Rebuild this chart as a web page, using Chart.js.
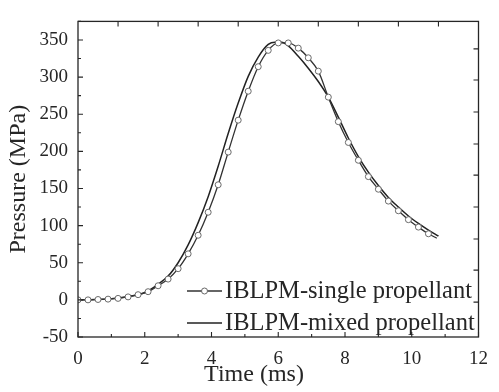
<!DOCTYPE html>
<html>
<head>
<meta charset="utf-8">
<script src="https://cdn.jsdelivr.net/npm/chart.js@4/dist/chart.umd.min.js"></script>
<style>
html,body{margin:0;padding:0;background:#fff;}
#wrap{width:499px;height:392px;}
</style>
</head>
<body>
<div id="wrap"><canvas id="c" width="499" height="392"></canvas></div>
<script>
// ---- data ----
const tSingle = [0,0.3,0.6,0.9,1.2,1.5,1.8,2.1,2.4,2.7,3.0,3.3,3.6,3.9,4.2,4.5,4.8,5.1,5.4,5.7,6.0,6.3,6.6,6.9,7.2,7.5,7.8,8.1,8.4,8.7,9.0,9.3,9.6,9.9,10.2,10.5,10.75];
const pSingle = [0,0,0.5,1,2,4,7,11,19,28,42,62,87,118,155,199,242,281,314,336,346,346,339,326,308,273,240,212,188,166,149,133,120,108,98,89,83];
const tMixed = [0,0.5,1.0,1.5,2.0,2.4,2.7,3.0,3.3,3.6,3.9,4.2,4.5,4.8,5.1,5.4,5.7,5.9,6.1,6.3,6.6,6.9,7.2,7.5,7.8,8.1,8.4,8.7,9.0,9.3,9.6,9.9,10.2,10.5,10.8];
const pMixed = [0,0.5,1.5,4.5,10,21,32,50,74,104,139,180,224,265,301,327,344,347,347,342,328,312,294,273,246,218,193,172,154,138,125,113,103,94,86];
const xTicks = [0,2,4,6,8,10,12];
const yTicks = [-50,0,50,100,150,200,250,300,350];
const topTicks = [1.2,2.4,3.6,4.8,6.0,7.2,8.4,9.6,10.8];
const rightTicks = [-3,40,82,125,168,210,253,296,338];
const labels = ["IBLPM-single propellant","IBLPM-mixed propellant"];
const xTitle = "Time (ms)";
const yTitle = "Pressure (MPa)";

const FONT = "'Liberation Serif','Times New Roman',serif";
const INK = '#262626';

const toXY = (xs, ys) => xs.map((x, i) => ({x: x, y: ys[i]}));

const ticksPlugin = {
  id: 'frameTicks',
  afterDraw(chart) {
    const ctx = chart.ctx;
    const a = chart.chartArea;
    const xs = chart.scales.x, ys = chart.scales.y;
    ctx.save();
    ctx.strokeStyle = INK;
    ctx.lineWidth = 1.3;
    ctx.strokeRect(a.left, a.top, a.right - a.left, a.bottom - a.top);
    ctx.lineWidth = 1.1;
    ctx.beginPath();
    for (let v = 0; v <= 12; v += 1) {
      const px = xs.getPixelForValue(v);
      const len = (v % 2 === 0) ? 5 : 3;
      ctx.moveTo(px, a.bottom); ctx.lineTo(px, a.bottom - len);
    }
    for (let v = -50; v <= 375; v += 25) {
      const py = ys.getPixelForValue(v);
      const len = (v % 50 === 0) ? 5 : 3;
      ctx.moveTo(a.left, py); ctx.lineTo(a.left + len, py);
    }
    topTicks.forEach(v => {
      const px = xs.getPixelForValue(v);
      ctx.moveTo(px, a.top); ctx.lineTo(px, a.top + 5);
    });
    rightTicks.forEach(v => {
      const py = ys.getPixelForValue(v);
      ctx.moveTo(a.right, py); ctx.lineTo(a.right - 5, py);
    });
    ctx.stroke();

    // x axis title (offset left as in the reference)
    ctx.fillStyle = INK;
    ctx.font = '24px ' + FONT;
    ctx.textAlign = 'center';
    ctx.textBaseline = 'alphabetic';
    ctx.fillText(xTitle, 254, 381);

    // legend inside plot
    const rows = [291, 323];
    ctx.font = '24.5px ' + FONT;
    ctx.textBaseline = 'middle';
    ctx.textAlign = 'left';
    chart.data.datasets.forEach((ds, i) => {
      const y = rows[i];
      ctx.strokeStyle = ds.borderColor;
      ctx.lineWidth = ds.borderWidth;
      ctx.beginPath();
      ctx.moveTo(187, y); ctx.lineTo(222, y);
      ctx.stroke();
      if (i === 0) {
        ctx.beginPath();
        ctx.arc(204.5, y, 3, 0, Math.PI * 2);
        ctx.fillStyle = '#fff';
        ctx.fill();
        ctx.strokeStyle = '#666';
        ctx.lineWidth = 1;
        ctx.stroke();
      }
      ctx.fillStyle = INK;
      ctx.fillText(ds.label, 225, y + 1);
    });
    ctx.restore();
  }
};

new Chart(document.getElementById('c'), {
  type: 'scatter',
  data: {
    datasets: [
      {
        label: labels[0],
        data: toXY(tSingle, pSingle),
        showLine: true,
        borderColor: '#333333',
        borderWidth: 1.3,
        cubicInterpolationMode: 'monotone',
        pointRadius: tSingle.map((t, i) => i === tSingle.length - 1 ? 0 : 3),
        pointBackgroundColor: '#ffffff',
        pointBorderColor: '#6a6a6a',
        pointBorderWidth: 1,
        order: 0
      },
      {
        label: labels[1],
        data: toXY(tMixed, pMixed),
        showLine: true,
        borderColor: '#222222',
        borderWidth: 1.5,
        cubicInterpolationMode: 'monotone',
        pointRadius: 0,
        order: 1
      }
    ]
  },
  options: {
    responsive: false,
    animation: false,
    layout: { padding: { top: 5, right: 10, left: 0, bottom: 0 } },
    plugins: { legend: { display: false }, tooltip: { enabled: false } },
    scales: {
      x: {
        type: 'linear', min: 0, max: 12,
        afterBuildTicks: s => { s.ticks = xTicks.map(v => ({value: v})); },
        afterFit: s => { s.height = 55; },
        grid: { display: false, drawTicks: false },
        border: { display: false },
        ticks: { color: INK, font: { family: FONT, size: 19 }, padding: 11, maxRotation: 0 },
        title: { display: false }
      },
      y: {
        type: 'linear', min: -50, max: 375,
        afterBuildTicks: s => { s.ticks = yTicks.map(v => ({value: v})); },
        afterFit: s => { s.width = 78; },
        grid: { display: false, drawTicks: false },
        border: { display: false },
        ticks: { color: INK, font: { family: FONT, size: 19 }, padding: 10 },
        title: { display: true, text: yTitle, color: INK, font: { family: FONT, size: 24 }, padding: { top: 4, bottom: 0 } }
      }
    }
  },
  plugins: [ticksPlugin]
});
</script>
</body>
</html>
